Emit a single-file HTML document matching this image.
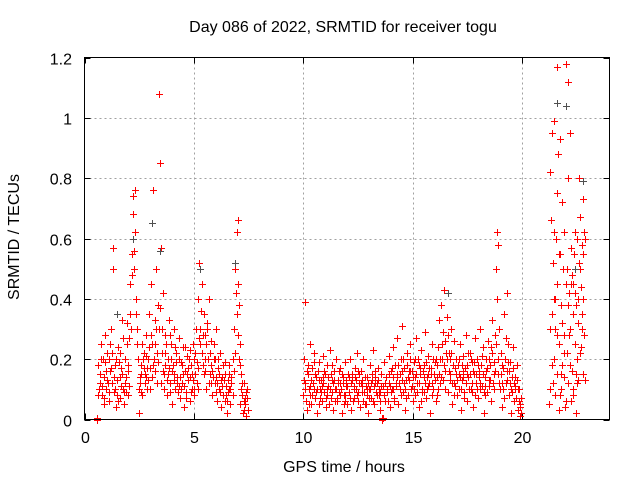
<!DOCTYPE html>
<html><head><meta charset="utf-8"><style>
html,body{margin:0;padding:0;background:#fff;}
svg{display:block;font-family:"Liberation Sans",sans-serif;}
</style></head><body>
<svg id="chart" width="640" height="480" xmlns="http://www.w3.org/2000/svg">
<rect width="640" height="480" fill="#fff"/>
<text x="343" y="32" text-anchor="middle" font-size="16" fill="#000">Day 086 of 2022, SRMTID for receiver togu</text>
<text x="344" y="472" text-anchor="middle" font-size="16" fill="#000">GPS time / hours</text>
<text transform="translate(19,237) rotate(-90)" text-anchor="middle" font-size="16" fill="#000">SRMTID / TECUs</text>
<g id="grid"></g>
<g id="ticks"></g>
<g id="marks" shape-rendering="crispEdges"></g>
<rect x="84.5" y="57.5" width="525" height="362" fill="none" stroke="#000" stroke-width="1"/>
</svg>
<script>
const xTicks=[0,5,10,15,20];
const yTicks=[0,0.2,0.4,0.6,0.8,1,1.2];
const yTickLabels=["0","0.2","0.4","0.6","0.8","1","1.2"];
const redHours=[0.6,0.7,0.75,0.8,0.85,0.9,0.95,1.0,1.05,1.1,1.15,1.2,1.25,1.3,1.32,1.35,1.4,1.45,1.5,1.55,1.6,1.65,1.7,1.75,1.8,1.85,1.9,1.95,2.0,2.05,2.1,2.15,2.2,2.22,2.25,2.3,2.32,2.35,2.4,2.45,2.5,2.55,2.6,2.65,2.7,2.75,2.8,2.85,2.9,2.95,3.0,3.05,3.1,3.15,3.2,3.25,3.3,3.35,3.4,3.45,3.5,3.55,3.6,3.65,3.7,3.75,3.8,3.85,3.9,3.95,4.0,4.05,4.1,4.15,4.2,4.25,4.3,4.35,4.4,4.45,4.5,4.55,4.6,4.65,4.7,4.75,4.8,4.85,4.9,4.95,5.0,5.05,5.1,5.15,5.2,5.25,5.3,5.35,5.4,5.45,5.5,5.55,5.6,5.65,5.7,5.75,5.8,5.85,5.9,5.95,6.0,6.05,6.1,6.15,6.2,6.25,6.3,6.35,6.4,6.45,6.5,6.55,6.6,6.65,6.7,6.8,6.85,6.9,6.95,7.0,7.02,7.05,7.1,7.15,7.2,7.25,7.3,7.35,7.4,7.45,
0.65,0.9,1.1,1.4,1.6,1.9,2.0,2.6,2.8,3.0,3.2,3.5,3.7,3.9,4.1,4.3,4.6,4.8,5.0,5.2,5.5,5.8,6.0,6.2,6.4,6.6,7.1,7.3,0.55,0.57,
10.0,10.05,10.1,10.15,10.2,10.25,10.3,10.35,10.4,10.45,10.5,10.55,10.6,10.65,10.7,10.75,10.8,10.85,10.9,10.95,11.0,11.05,11.1,11.15,11.2,11.25,11.3,11.35,11.4,11.45,11.5,11.55,11.6,11.65,11.7,11.75,11.8,11.85,11.9,11.95,12.0,12.05,12.1,12.15,12.2,12.25,12.3,12.35,12.4,12.45,12.5,12.55,12.6,12.65,12.7,12.75,12.8,12.85,12.9,12.95,13.0,13.05,13.1,13.15,13.2,13.25,13.3,13.35,13.4,13.45,13.5,13.55,13.6,13.62,13.65,13.7,13.75,13.8,13.85,13.9,13.95,14.0,14.05,14.1,14.15,14.2,14.25,14.3,14.35,14.4,14.45,14.5,14.55,14.6,14.65,14.7,14.75,14.8,14.85,14.9,14.95,15.0,15.05,15.1,15.15,15.2,15.25,15.3,15.35,15.4,15.45,15.5,15.55,15.6,15.65,15.7,15.75,15.8,15.85,15.9,15.95,16.0,16.05,16.1,16.15,16.2,16.25,16.3,16.35,16.4,16.45,16.5,16.55,16.6,16.65,16.7,16.75,16.8,16.85,16.9,16.95,17.0,17.05,17.1,17.15,17.2,17.25,17.3,17.35,17.4,17.45,17.5,17.55,17.6,17.65,17.7,17.75,17.8,17.85,17.9,17.95,18.0,18.05,18.1,18.15,18.2,18.25,18.3,18.35,18.4,18.45,18.5,18.55,18.6,18.65,18.7,18.75,18.8,18.85,18.9,18.95,19.0,19.05,19.1,19.15,19.2,19.25,19.3,19.35,19.4,19.45,19.5,19.55,19.6,19.65,19.7,19.75,19.8,19.85,19.9,19.95,
10.1,10.3,10.5,10.7,10.9,11.1,11.3,11.5,11.7,11.9,12.1,12.3,12.5,12.7,12.9,13.1,13.3,13.5,13.7,13.9,14.1,14.3,14.5,14.7,14.9,15.1,15.3,15.5,15.7,15.9,16.1,16.3,16.5,16.7,16.9,17.1,17.3,17.5,17.7,17.9,18.1,18.3,18.5,18.7,18.9,19.1,19.3,19.5,19.7,19.9,
21.25,21.3,21.32,21.35,21.38,21.4,21.42,21.45,21.48,21.5,21.52,21.55,21.58,21.6,21.62,21.65,21.68,21.7,21.72,21.75,21.78,21.8,21.82,21.85,21.88,21.9,21.92,21.95,22.0,22.02,22.05,22.08,22.1,22.12,22.15,22.18,22.2,22.22,22.25,22.28,22.3,22.32,22.35,22.38,22.4,22.42,22.45,22.48,22.5,22.52,22.55,22.58,22.6,22.62,22.65,22.68,22.7,22.72,22.75,22.78,22.8,22.82,22.85,22.88,
21.3,21.45,21.6,21.75,21.9,22.05,22.2,22.35,22.5,22.65,22.8,
0.72,0.82,0.92,1.02,1.12,1.22,1.27,1.37,1.47,1.57,1.67,1.77,1.87,1.97,2.07,2.17,2.27,2.42,2.57,2.67,2.77,2.87,2.97,3.07,3.17,3.27,3.37,3.47,3.57,3.67,3.77,3.87,3.97,4.07,4.17,4.27,4.37,4.47,4.57,4.67,4.77,4.87,4.97,5.07,5.17,5.27,5.37,5.47,5.57,5.67,5.77,5.87,5.97,6.07,6.17,6.27,6.37,6.47,6.57,6.67,6.77,6.87,6.97,7.07,7.17,7.27,7.37,7.47,
10.02,10.12,10.22,10.32,10.42,10.52,10.62,10.72,10.82,10.92,11.02,11.12,11.22,11.32,11.42,11.52,11.62,11.72,11.82,11.92,12.02,12.12,12.22,12.32,12.42,12.52,12.62,12.72,12.82,12.92,13.02,13.12,13.22,13.32,13.42,13.52,13.64,13.72,13.82,13.92,14.02,14.12,14.22,14.32,14.42,14.52,14.62,14.72,14.82,14.92,15.02,15.12,15.22,15.32,15.42,15.52,15.62,15.72,15.82,15.92,16.02,16.12,16.22,16.32,16.42,16.52,16.62,16.72,16.82,16.92,17.02,17.12,17.22,17.32,17.42,17.52,17.62,17.72,17.82,17.92,18.02,18.12,18.22,18.32,18.42,18.52,18.62,18.72,18.82,18.92,19.02,19.12,19.22,19.32,19.42,19.52,19.62,19.72,19.82,19.92,
21.28,21.36,21.44,21.52,21.6,21.68,21.76,21.84,21.92,22.0,22.08,22.16,22.24,22.32,22.4,22.48,22.56,22.64,22.72,22.8,22.88,
0.62,0.77,0.87,0.97,1.07,1.17,1.42,1.52,1.62,1.72,1.82,1.92,2.02,2.12,2.37,2.47,2.52,2.62,2.72,2.82,2.92,3.02,3.12,3.22,3.32,3.42,3.52,3.62,3.72,3.82,3.92,4.02,4.12,4.22,4.32,4.42,4.52,4.62,4.72,4.82,4.92,5.02,5.12,5.22,5.32,5.42,5.52,5.62,5.72,5.82,5.92,6.02,6.12,6.22,6.32,6.42,6.52,6.62,6.72,6.82,6.92,7.02,7.12,7.22,7.32,7.42,
10.07,10.17,10.27,10.37,10.47,10.57,10.67,10.77,10.87,10.97,11.07,11.17,11.27,11.37,11.47,11.57,11.67,11.77,11.87,11.97,12.07,12.17,12.27,12.37,12.47,12.57,12.67,12.77,12.87,12.97,13.07,13.17,13.27,13.37,13.47,13.57,13.77,13.87,13.97,14.07,14.17,14.27,14.37,14.47,14.57,14.67,14.77,14.87,14.97,15.07,15.17,15.27,15.37,15.47,15.57,15.67,15.77,15.87,15.97,16.07,16.17,16.27,16.37,16.47,16.57,16.67,16.77,16.87,16.97,17.07,17.17,17.27,17.37,17.47,17.57,17.67,17.77,17.87,17.97,18.07,18.17,18.27,18.37,18.47,18.57,18.67,18.77,18.87,18.97,19.07,19.17,19.27,19.37,19.47,19.57,19.67,19.77,19.87,19.97];
const redTecu=[0.18,0.12,0.25,0.08,0.2,0.14,0.28,0.1,0.22,0.06,0.16,0.3,0.12,0.57,0.5,0.09,0.18,0.04,0.13,0.24,0.07,0.17,0.33,0.1,0.05,0.2,0.14,0.32,0.08,0.27,0.45,0.55,0.68,0.74,0.5,0.62,0.76,0.4,0.3,0.2,0.02,0.12,0.18,0.08,0.22,0.15,0.28,0.1,0.2,0.35,0.17,0.45,0.25,0.76,0.33,0.5,0.22,0.38,1.08,0.85,0.57,0.3,0.42,0.15,0.28,0.08,0.2,0.33,0.12,0.25,0.05,0.18,0.3,0.1,0.22,0.14,0.27,0.07,0.19,0.12,0.24,0.04,0.16,0.09,0.21,0.13,0.06,0.18,0.1,0.25,0.08,0.15,0.3,0.12,0.4,0.52,0.25,0.45,0.18,0.35,0.28,0.1,0.32,0.2,0.4,0.15,0.26,0.08,0.2,0.12,0.3,0.06,0.17,0.1,0.22,0.04,0.14,0.08,0.19,0.11,0.02,0.09,0.15,0.05,0.12,0.2,0.3,0.5,0.62,0.45,0.66,0.38,0.25,0.15,0.08,0.02,0.12,0.05,0.01,0.07,
0.1,0.05,0.2,0.1,0.14,0.09,0.16,0.09,0.14,0.1,0.16,0.12,0.18,0.09,0.15,0.11,0.24,0.14,0.2,0.1,0.16,0.12,0.14,0.09,0.06,0.1,0.05,0.03,0,0.005,
0.08,0.2,0.39,0.03,0.15,0.1,0.25,0.05,0.17,0.12,0.22,0.07,0.14,0.02,0.19,0.1,0.13,0.06,0.21,0.09,0.15,0.04,0.18,0.11,0.23,0.07,0.13,0.03,0.16,0.1,0.2,0.06,0.12,0.09,0.17,0.02,0.14,0.08,0.19,0.11,0.05,0.15,0.09,0.2,0.03,0.13,0.07,0.17,0.1,0.22,0.06,0.12,0.04,0.16,0.09,0.2,0.05,0.11,0.14,0.02,0.1,0.18,0.07,0.13,0.23,0.05,0.12,0.08,0.17,0.1,0.03,0.15,0.0,0.005,0.11,0.19,0.06,0.14,0.09,0.21,0.04,0.16,0.1,0.24,0.07,0.18,0.12,0.27,0.05,0.15,0.2,0.31,0.09,0.17,0.03,0.13,0.22,0.08,0.16,0.25,0.11,0.06,0.19,0.14,0.27,0.09,0.2,0.04,0.15,0.23,0.1,0.18,0.29,0.07,0.14,0.21,0.12,0.02,0.17,0.25,0.1,0.19,0.06,0.14,0.24,0.33,0.12,0.38,0.2,0.29,0.43,0.16,0.34,0.09,0.22,0.13,0.3,0.05,0.18,0.26,0.11,0.2,0.08,0.15,0.25,0.03,0.13,0.21,0.09,0.17,0.28,0.06,0.14,0.22,0.1,0.19,0.04,0.15,0.27,0.12,0.2,0.07,0.16,0.3,0.11,0.24,0.02,0.14,0.2,0.09,0.26,0.13,0.18,0.06,0.33,0.15,0.28,0.5,0.62,0.58,0.3,0.1,0.22,0.04,0.17,0.35,0.12,0.42,0.25,0.08,0.19,0.02,0.14,0.24,0.06,0.11,0.18,0.03,0.1,0.01,0.07,
0.12,0.08,0.1,0.05,0.14,0.08,0.18,0.1,0.12,0.06,0.14,0.11,0.16,0.13,0.08,0.12,0.16,0.09,0.08,0.12,0.1,0.14,0.13,0.07,0.16,0.08,0.12,0.09,0.15,0.12,0.08,0.14,0.1,0.2,0.12,0.1,0.14,0.18,0.09,0.15,0.12,0.08,0.2,0.1,0.15,0.12,0.16,0.1,0.14,0.05,
0.05,0.82,0.66,0.35,0.95,0.12,0.52,0.2,0.99,0.3,0.08,0.6,1.17,0.15,0.45,0.88,0.25,0.03,0.55,0.93,0.38,0.1,0.72,0.18,0.5,0.28,0.62,0.04,0.45,1.18,0.22,0.8,0.12,1.12,0.42,0.95,0.3,0.06,0.57,0.16,0.48,0.35,0.1,0.55,0.25,0.42,0.02,0.38,0.2,0.6,0.32,0.13,0.52,0.8,0.67,0.44,0.24,0.58,0.35,0.73,0.15,0.62,0.28,0.13,
0.1,0.4,0.28,0.08,0.14,0.5,0.18,0.45,0.12,0.22,0.4,
0.15,0.11,0.19,0.13,0.09,0.17,0.22,0.14,0.08,0.19,0.11,0.27,0.12,0.18,0.35,0.48,0.56,0.25,0.15,0.2,0.12,0.17,0.24,0.14,0.2,0.3,0.19,0.37,0.16,0.22,0.13,0.17,0.2,0.13,0.19,0.09,0.14,0.18,0.11,0.15,0.2,0.09,0.13,0.22,0.17,0.3,0.22,0.15,0.25,0.12,0.18,0.14,0.2,0.12,0.15,0.11,0.13,0.08,0.13,0.1,0.08,0.22,0.35,0.2,0.1,0.06,0.09,0.03,
0.13,0.06,0.18,0.11,0.08,0.15,0.1,0.13,0.09,0.12,0.07,0.14,0.1,0.09,0.13,0.07,0.16,0.1,0.12,0.08,0.11,0.07,0.15,0.1,0.13,0.09,0.12,0.06,0.14,0.1,0.07,0.15,0.11,0.09,0.13,0.06,0.005,0.12,0.1,0.15,0.09,0.14,0.11,0.18,0.1,0.16,0.12,0.18,0.13,0.1,0.14,0.2,0.12,0.17,0.09,0.14,0.19,0.11,0.15,0.2,0.13,0.18,0.15,0.25,0.18,0.22,0.28,0.15,0.12,0.17,0.13,0.2,0.1,0.16,0.12,0.22,0.15,0.12,0.19,0.1,0.14,0.18,0.15,0.11,0.17,0.13,0.22,0.19,0.25,0.2,0.15,0.1,0.2,0.13,0.16,0.09,0.12,0.07,0.1,0.04,
0.3,0.18,0.62,0.4,0.75,0.55,0.15,0.32,0.22,0.06,0.38,0.28,0.45,0.08,0.62,0.15,0.4,0.5,0.3,0.55,0.6,
0.08,0.2,0.07,0.16,0.12,0.25,0.2,0.06,0.22,0.15,0.09,0.25,0.11,0.3,0.35,0.1,0.14,0.25,0.17,0.21,0.13,0.28,0.18,0.25,0.12,0.3,0.22,0.1,0.25,0.15,0.28,0.16,0.24,0.12,0.2,0.1,0.15,0.07,0.17,0.23,0.15,0.1,0.19,0.27,0.36,0.28,0.2,0.3,0.22,0.16,0.25,0.09,0.2,0.13,0.18,0.15,0.06,0.18,0.14,0.16,0.42,0.28,0.18,0.12,0.07,0.1,
0.1,0.16,0.05,0.13,0.19,0.09,0.16,0.07,0.11,0.16,0.1,0.05,0.15,0.12,0.06,0.13,0.08,0.15,0.05,0.13,0.09,0.12,0.06,0.14,0.08,0.15,0.11,0.09,0.05,0.12,0.1,0.06,0.14,0.12,0.08,0.11,0.14,0.06,0.11,0.17,0.06,0.15,0.12,0.08,0.2,0.1,0.14,0.2,0.16,0.1,0.15,0.18,0.06,0.16,0.12,0.1,0.17,0.08,0.15,0.2,0.1,0.2,0.13,0.26,0.2,0.16,0.22,0.08,0.15,0.18,0.14,0.18,0.07,0.15,0.1,0.2,0.16,0.08,0.18,0.1,0.21,0.09,0.16,0.11,0.24,0.12,0.16,0.4,0.12,0.18,0.07,0.27,0.19,0.12,0.17,0.1,0.13,0.06,0.02];
const greyHours=[1.5,2.2,3.1,3.45,5.3,6.9,16.6,21.6,22.0,22.4,22.8];
const greyTecu=[0.35,0.6,0.65,0.56,0.5,0.52,0.42,1.05,1.04,0.5,0.79];

const X0=84.5,X1=609.5,Y0=419.5,Y1=57.5,XMAX=24,YMAX=1.2;
function xs(v){return X0+(v/XMAX)*(X1-X0);}
function ys(v){return Y0-(v/YMAX)*(Y0-Y1);}
const NS="http://www.w3.org/2000/svg";
const grid=document.getElementById('grid'),ticks=document.getElementById('ticks'),marks=document.getElementById('marks');
function mk(tag,attrs,parent){const e=document.createElementNS(NS,tag);for(const k in attrs)e.setAttribute(k,attrs[k]);parent.appendChild(e);return e;}
xTicks.forEach(function(t){
  const x=Math.round(xs(t))+0.5;
  if(t>0){const g=mk('line',{x1:x,x2:x,y1:Y1,y2:Y0,stroke:'#a0a0a0','stroke-dasharray':'2,3'},grid);
  
  }
  const a=mk('line',{x1:x,x2:x,y1:Y0,y2:Y0-6,stroke:'#000'},ticks);
  
  
  const b=mk('line',{x1:x,x2:x,y1:Y1,y2:Y1+6,stroke:'#000'},ticks);
  
  
  const l=mk('text',{x:x,y:443,'text-anchor':'middle','font-size':16,fill:'#000'},ticks);
  l.textContent=String(t);
  
  
});
yTicks.forEach(function(t,i){
  const y=Math.round(ys(t))+0.5;
  if(t>0&&t<YMAX){const g=mk('line',{x1:X0,x2:X1,y1:y,y2:y,stroke:'#a0a0a0','stroke-dasharray':'2,3'},grid);
  
  }
  const a=mk('line',{x1:X0,x2:X0+6,y1:y,y2:y,stroke:'#000'},ticks);
  
  
  const b=mk('line',{x1:X1,x2:X1-6,y1:y,y2:y,stroke:'#000'},ticks);
  
  
  const l=mk('text',{x:72,y:y+6,'text-anchor':'end','font-size':16,fill:'#000'},ticks);
  l.textContent=yTickLabels[i];
  
  
});
function plus(h,v,color,name){
  const x=Math.round(xs(h)),y=Math.round(ys(v));
  const g=mk('g',{fill:color},marks);
  
  
  mk('rect',{x:x-3,y:y,width:7,height:1},g);
  mk('rect',{x:x,y:y-3,width:1,height:7},g);
}
redHours.forEach(function(h,i){plus(h,redTecu[i],'#ff0000','srmtid-point');});
greyHours.forEach(function(h,i){plus(h,greyTecu[i],'#505050','srmtid-point-alt');});
</script>
</body></html>
